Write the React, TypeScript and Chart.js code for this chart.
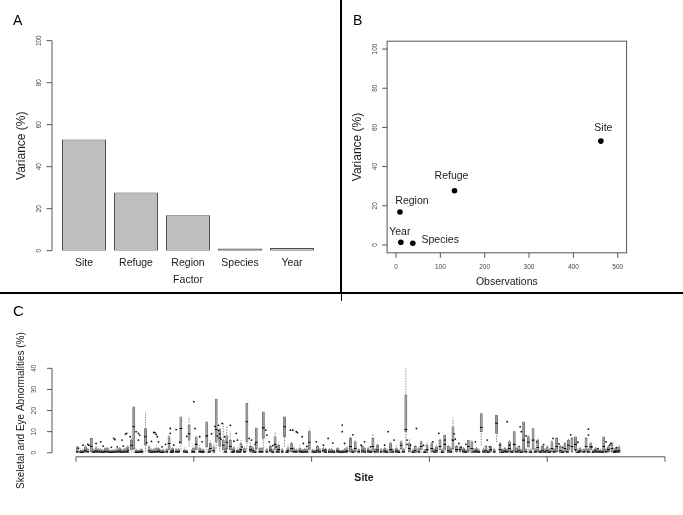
import React, { useEffect, useRef } from "react";
import { Chart, registerables } from "chart.js";

Chart.register(...registerables);

// ---------------- Panel A: variance by factor ----------------
const factorLabels = ["Site", "Refuge", "Region", "Species", "Year"];
const varianceByFactor = [53.0, 27.7, 16.9, 1.0, 1.3];
const varianceTicks = [0, 20, 40, 60, 80, 100];

// ---------------- Panel B: variance vs. observations ----------------
const pointNames = ["Site", "Refuge", "Region", "Year", "Species"];
const observations = [462, 132, 9, 11, 38];
const variancePct = [53.0, 27.7, 16.8, 1.4, 0.9];
const observationTicks = [0, 100, 200, 300, 400, 500];

// ---------------- Panel C: abnormalities per site (boxplots) ----------------
const siteIndex = [
  1, 4, 8, 13, 17, 21, 25, 29, 33, 37, 41, 44, 47, 49, 53, 56, 59, 62, 66, 70, 74, 79, 82,
  85, 89, 92, 96, 99, 102, 105, 108, 111, 114, 117, 119, 122, 125, 128, 131, 134, 137, 140, 143, 145, 148, 150, 153, 156, 159, 162, 165, 169, 172, 175, 177, 180, 183, 187, 190, 194, 198,
  201, 205, 210, 215, 219, 222, 226, 230, 233, 237, 240, 243, 248, 252, 256, 259, 262, 267, 272, 276, 280, 283, 288, 293, 298,
  302, 306, 309, 313, 316, 320, 323, 326, 329, 333, 336, 340, 344, 348, 352, 357, 360, 364, 368, 372, 376, 380, 384, 388, 392, 396,
  400, 404, 408, 411, 415, 418, 421, 424, 428, 431, 433, 437, 441, 445, 448, 452, 455, 458, 461,
];
const whiskerLow = [
  0, 0, 0, 0, 0, 0, 0, 0, 0, 0, 0, 0, 0, 0, 0, 0, 0.5, 0, 0, 0, 0, 0, 0,
  0, 0.5, 0, 3, 0, 0, 0, 0, 0, 0, 0, 2, 0.5, 0, 0, 0, 0, 0, 0, 0, 0.5, 0, 0, 0, 0, 2, 0, 0, 0, 0, 0, 3, 0, 0, 0, 0, 0, 0,
  0, 0, 0, 0, 0, 0, 0, 0, 0, 0, 0, 0, 0, 0, 0, 0, 0, 0, 0, 0, 2, 0, 0, 0, 0,
  0, 0, 0, 0, 0, 0, 0, 0, 0, 0, 0, 0, 3.6, 0, 0, 5, 0, 0, 0, 0, 0, 0, 0, 0, 0, 0,
  0, 0, 0, 0, 0, 0, 0, 0, 0, 0, 0, 0, 0, 0, 0, 0, 0, 0, 0,
];
const boxQ1 = [
  0, 0, 0.5, 0.5, 0, 0, 0, 0, 0, 0, 0, 0, 1.3, 2, 0, 0, 3.6, 0, 0, 0, 0, 1.3, 0,
  0, 4.4, 0, 6, 0, 1.3, 0, 0, 2.8, 0.5, 0, 5.2, 3, 1.3, 2, 1.5, 0, 0, 0.5, 0, 5.2, 0.5, 0, 2, 0, 6.8, 0, 0.5, 1.3, 0, 0, 7.6, 0, 0.5, 0, 0, 0, 1.3,
  0, 0, 0.5, 0, 0, 0, 0, 0, 0.5, 0.5, 0, 0, 0, 0.5, 0, 0, 0, 0, 0, 2, 10, 0.5, 0, 1.3, 0,
  0.5, 0, 1.3, 1.3, 0, 2, 0.5, 0.5, 0, 0.5, 0, 0, 10, 0, 0.5, 9.2, 0, 0, 0.5, 0.5, 0, 0.5, 2.8, 2, 0.5, 0,
  0, 0.5, 0.5, 0, 0.5, 1.3, 0.5, 1.3, 0, 0, 0.5, 1.3, 0, 0, 0.5, 0.5, 0.5, 0, 0,
];
const boxMedian = [
  0.5, 0.3, 1, 3, 0.8, 0.5, 0.6, 0.3, 0.5, 0.8, 0.5, 1, 3.6, 12.3, 0.3, 0.5, 7.6, 1, 0.5, 0.8, 0.3, 4.4, 0.8,
  0.5, 11.5, 0.5, 9, 0.5, 4, 0.6, 0.5, 8, 2, 1, 11, 7, 3.6, 5, 3, 0.8, 0.5, 1.5, 0.5, 14.7, 1.5, 1, 5, 0.5, 11.8, 0.5, 1.3, 4, 1.5, 0.5, 12.3, 1, 2, 0.5, 0.8, 0.5, 5,
  0.5, 1, 1, 0.5, 0.3, 0.8, 0.3, 0.8, 3, 2, 0.5, 1, 0.8, 3, 1.3, 0.5, 0.8, 1.5, 0.8, 3.6, 11, 2, 1, 3, 1.5,
  2, 1, 3, 4, 1, 6, 1.5, 1.5, 0.8, 3, 2, 0.8, 12, 1, 1.5, 14, 1.5, 0.8, 2, 4, 1, 6, 5, 6, 2.5, 1,
  1, 2, 3, 1, 2, 3.6, 3, 4, 0.8, 0.5, 3, 2.8, 0.8, 0.5, 3, 1.5, 2, 0.8, 1,
];
const boxQ3 = [
  2.8, 1, 2.8, 6.8, 2.4, 1.5, 2, 1, 1.3, 2, 1.5, 2.8, 6, 21.8, 1, 1.3, 11.5, 2.8, 1.5, 2, 1.3, 7.6, 2,
  1.5, 17, 1.3, 13, 1.5, 7.6, 2, 1.3, 14.7, 4.4, 2.8, 25.4, 11, 6, 8, 6, 2.4, 1.3, 4.4, 2, 23.4, 3, 2.4, 11.8, 2, 19.4, 1.5, 3, 7.6, 3.6, 1.5, 17, 2.4, 4.4, 1.3, 2, 1.5, 10,
  1.3, 3, 2, 1.5, 1, 2, 1, 2.4, 6.8, 5.2, 1.5, 3, 2, 6.8, 3.6, 1.5, 2, 4.4, 2, 5.2, 27.3, 4.4, 3, 5.2, 3.6,
  4.4, 2.8, 6, 8.4, 3, 12.3, 3, 2.8, 2, 6, 5.2, 2, 18.6, 3, 2.8, 17.9, 4.4, 2, 5.2, 10, 3, 14.7, 7.6, 11.5, 6, 3,
  2.8, 5.2, 6.8, 3, 4.4, 6, 6.8, 7.6, 2, 1.5, 6.8, 4.4, 2, 1.3, 7.6, 2.8, 4.4, 2, 2.8,
];
const whiskerHigh = [
  3.2, 2, 3.6, 6.8, 3, 2.4, 2.8, 1.5, 2, 3, 2.4, 3.6, 6.8, 21.8, 1.3, 2, 19.4, 3.6, 2.4, 3, 2, 8.4, 2.8,
  2.4, 17, 2.8, 17, 3, 7.6, 3.6, 2.4, 14.7, 6, 4.4, 25.4, 12.3, 14, 13, 10, 3.6, 2.8, 6, 3, 23.4, 5, 3.6, 11.8, 3, 19.4, 2.4, 4.4, 10, 5.2, 2.8, 17, 4, 5.2, 2.4, 3.6, 2.4, 11.5,
  2.4, 4, 2.8, 2.4, 1.5, 3, 1.3, 3.6, 7.6, 6, 2, 4, 2.8, 9.2, 4.4, 2.4, 3, 5.2, 3.6, 6, 40, 6.8, 3.6, 6, 5.2,
  5.2, 3.6, 6.8, 8.4, 4, 16.3, 3.6, 3.6, 2.8, 6, 6, 2.8, 18.6, 4, 3.6, 17.9, 5.2, 2.8, 6, 10, 4, 14.7, 8.4, 11.5, 6.8, 4,
  3.6, 6, 7.6, 4, 5.2, 6.8, 7.6, 7.6, 2.8, 2, 7.5, 5.2, 2.8, 2, 7.6, 3.6, 5.2, 2.8, 3.6,
];
// low sites whose box starts at 0 (the dense band along the bottom)
const lowSiteIndex = [
  6, 10, 15, 19, 23, 27, 31, 35, 39, 43, 51, 55, 64, 68, 72, 77, 81,
  87, 94, 100, 107, 113, 127, 133, 139, 152, 158, 167, 171, 179, 185, 192, 196,
  203, 207, 212, 217, 224, 228, 235, 245, 250, 254, 264, 269, 274, 278, 286, 291, 296,
  304, 311, 318, 331, 338, 342, 346, 350, 355, 362, 366, 370, 374, 378, 382, 386, 390, 394, 398,
  402, 406, 413, 417, 426, 435, 439, 443, 447, 450, 457, 460,
];
const lowMedian = [
  0.3, 0.5, 0.3, 0.5, 0.3, 0.5, 0.3, 0.5, 0.3, 0.5, 0.3, 0.5, 0.3, 0.5, 0.3, 0.5, 0.3,
  0.5, 0.3, 0.5, 0.3, 0.5, 0.5, 0.3, 0.5, 0.3, 0.5, 0.3, 0.5, 0.3, 0.5, 0.3, 0.5,
  0.3, 0.5, 0.3, 0.5, 0.3, 0.5, 0.3, 0.5, 0.3, 0.5, 0.3, 0.5, 0.3, 0.5, 0.3, 0.5, 0.3,
  0.5, 0.3, 0.5, 0.3, 0.5, 0.3, 0.5, 0.3, 0.5, 0.3, 0.5, 0.3, 0.5, 0.3, 0.5, 0.3, 0.5, 0.3, 0.5,
  0.3, 0.5, 0.3, 0.5, 0.3, 0.5, 0.3, 0.5, 0.3, 0.5, 0.3, 0.5,
];
const lowQ3 = [
  1, 1.5, 1.3, 1.5, 1, 2, 1, 1.5, 1.3, 2, 1.3, 1.5, 1.3, 2, 1, 1.5, 1.3,
  1.5, 1, 2, 1.3, 1.5, 2, 1.3, 1.5, 1, 2, 1.3, 1.5, 1, 2, 1.3, 1.5,
  1, 1.5, 1.3, 1.5, 1, 1.5, 1.3, 2, 1, 1.5, 1.3, 1.5, 1, 1.5, 1.3, 2, 1,
  1.5, 1.3, 2, 1, 1.5, 1.3, 1.5, 1, 1.5, 1.3, 1.5, 1, 2, 1.3, 1.5, 1.3, 1.5, 1, 1.5,
  1.3, 1.5, 1, 1.5, 1.3, 1.5, 1, 1.5, 1.3, 1.5, 1, 1.5,
];
const lowWhiskerHigh = [
  1.8, 2.4, 2, 2.8, 2, 3, 1.5, 2.4, 2, 3, 2.4, 2, 2.4, 3.6, 2, 2.8, 2,
  2.4, 2, 3, 2.4, 2.8, 3.6, 2, 2.4, 2, 2.8, 2.4, 3, 2, 3, 2, 2.4,
  2, 2.4, 2, 2.8, 1.5, 2.4, 2, 3, 2, 2.4, 2, 2.8, 2, 2.4, 2, 3, 2,
  2.4, 2, 3, 2, 2.4, 2, 2.8, 2, 2.4, 2, 2.4, 2, 3, 2, 2.4, 2, 2.8, 2, 2.4,
  2, 2.4, 2, 2.8, 2, 2.4, 2, 2.4, 2, 2.8, 2, 2.4,
];
const outlierSite = [
  2, 6, 10, 11, 17, 21, 23, 30, 32, 33, 35, 39, 40, 42, 43, 46, 51, 53, 53, 54, 60, 64, 66, 67, 68, 69, 70, 73, 76, 80, 80, 83, 85,
  88, 94, 100, 101, 105, 107, 115, 118, 120, 121, 121, 122, 123, 124, 126, 131, 134, 136, 137, 141, 147, 149, 152, 161, 162, 164, 167, 170, 182, 184, 187, 188, 192, 193, 196,
  204, 210, 212, 214, 218, 226, 226, 228, 235, 242, 245, 250, 262, 265, 270, 281, 281, 284, 289, 295,
  303, 308, 313, 321, 322, 325, 327, 331, 339, 349, 351, 360, 366, 368, 377, 378, 382, 391, 397,
  405, 410, 413, 420, 424, 426, 435, 435, 438, 443, 450, 453, 454, 459,
];
const outlierValue = [
  2.2, 3.6, 4, 3.6, 4.4, 5.2, 3.2, 2.6, 6.8, 6.3, 2.8, 6, 3.2, 8.8, 9.2, 7.6, 10, 6, 9.2, 8.4, 4.8, 5.4, 9.6, 9.5, 8.7, 7.6, 5.2, 2.8, 4, 11.5, 9.2, 3.6, 11,
  5, 7.8, 24.2, 11.5, 7.6, 5.2, 9, 12.5, 8, 13, 10.5, 9, 6.5, 13.9, 7.6, 13, 5.5, 9.2, 6, 2.8, 6.8, 6, 4, 10.7, 8.4, 5.2, 3.4, 2.8, 10.7, 10.7, 10, 9.5, 7.6, 4.4, 3,
  5.2, 3.6, 1.5, 6.8, 4.6, 13.1, 10, 4.4, 8.5, 3.6, 5.2, 2.8, 3.6, 10, 6, 6, 4, 3.6, 11.5, 3.5,
  5.2, 9.2, 6, 9, 6.5, 4.4, 2.5, 4, 5.2, 6, 2.8, 3.6, 14.7, 3.6, 12.3, 10, 8, 5.2, 3.9,
  6.8, 4.2, 2.5, 8.5, 1.3, 5, 11.2, 8.4, 2.8, 2, 5.2, 3.6, 4.4, 2.4,
];
const abnormalityTicks = [0, 10, 20, 30, 40];
const siteTicks = [0, 100, 200, 300, 400, 500];

// ---------------- styles ----------------
const SANS = '"Liberation Sans", Arial, Helvetica, sans-serif';
const NARROW = '"Liberation Sans Narrow", "Liberation Sans", Arial, sans-serif';
const AXIS = "#555555";
const TICK_TXT = "#444444";
const LABEL_TXT = "#1a1a1a";
const UP = -Math.PI / 2;

const pointLabelPlacement = [
  { dx: 2.5, dy: -13, align: "center" },
  { dx: -3, dy: -15, align: "center" },
  { dx: 12, dy: -10.6, align: "center" },
  { dx: -1, dy: -10.6, align: "center" },
  { dx: 8.7, dy: -2.6, align: "left" },
];

function text(
  ctx: CanvasRenderingContext2D,
  s: string,
  x: number,
  y: number,
  size: number,
  color: string,
  rotate = 0,
  align: CanvasTextAlign = "center",
  family = SANS,
  weight = "normal"
) {
  ctx.save();
  ctx.translate(x, y);
  if (rotate) ctx.rotate(rotate);
  ctx.font = `${weight} ${size}px ${family}`;
  ctx.fillStyle = color;
  ctx.textAlign = align;
  ctx.textBaseline = "middle";
  ctx.fillText(s, 0, 0);
  ctx.restore();
}

function seg(ctx: CanvasRenderingContext2D, x1: number, y1: number, x2: number, y2: number, color = AXIS, w = 1) {
  ctx.save();
  ctx.strokeStyle = color;
  ctx.lineWidth = w;
  ctx.beginPath();
  ctx.moveTo(x1, y1);
  ctx.lineTo(x2, y2);
  ctx.stroke();
  ctx.restore();
}

const baseOptions = {
  responsive: false,
  animation: false as const,
  events: [] as any[],
  plugins: { legend: { display: false }, tooltip: { enabled: false } },
};

function buildA(): any {
  const axes = {
    id: "axesA",
    afterDraw(chart: any) {
      const { ctx, chartArea: ca, scales } = chart;
      const x = scales.x, y = scales.y;
      const ax = ca.left - 6;
      const y0 = y.getPixelForValue(varianceTicks[0]);
      const y1 = y.getPixelForValue(varianceTicks[varianceTicks.length - 1]);
      seg(ctx, ax, y0, ax, y1);
      varianceTicks.forEach((t) => {
        const py = y.getPixelForValue(t);
        seg(ctx, ax, py, ax - 5.5, py);
        text(ctx, String(t), ax - 12.5, py, 6.5, TICK_TXT, UP);
      });
      text(ctx, "Variance (%)", 22, (y0 + y1) / 2, 12, LABEL_TXT, UP);
      factorLabels.forEach((l, i) => text(ctx, l, x.getPixelForValue(i), 263, 10.5, LABEL_TXT));
      text(ctx, "Factor", (ca.left + ca.right) / 2, 280.5, 10.5, LABEL_TXT);
    },
  };
  return {
    type: "bar",
    data: {
      labels: factorLabels,
      datasets: [
        {
          data: varianceByFactor,
          backgroundColor: "#bebebe",
          borderColor: "#505050",
          borderWidth: 1,
          borderSkipped: false,
          barPercentage: 0.846,
          categoryPercentage: 1,
        },
      ],
    },
    options: {
      ...baseOptions,
      layout: { padding: { left: 58, right: 22, top: 40.7, bottom: 41.3 } },
      scales: {
        x: { display: false, offset: true },
        y: { display: false, min: 0, max: 100 },
      },
    },
    plugins: [axes],
  };
}

function buildB(): any {
  const axes = {
    id: "axesB",
    afterDraw(chart: any) {
      const { ctx, chartArea: ca, scales } = chart;
      const x = scales.x, y = scales.y;
      ctx.save();
      ctx.strokeStyle = AXIS;
      ctx.lineWidth = 1;
      ctx.strokeRect(ca.left, ca.top, ca.right - ca.left, ca.bottom - ca.top);
      ctx.restore();
      varianceTicks.forEach((t) => {
        const py = y.getPixelForValue(t);
        seg(ctx, ca.left, py, ca.left - 5, py);
        text(ctx, String(t), ca.left - 11.8, py, 6.5, TICK_TXT, UP);
      });
      observationTicks.forEach((t) => {
        const px = x.getPixelForValue(t);
        seg(ctx, px, ca.bottom, px, ca.bottom + 5);
        text(ctx, String(t), px, ca.bottom + 14, 6.5, TICK_TXT);
      });
      text(ctx, "Observations", (ca.left + ca.right) / 2, 282.5, 10.5, LABEL_TXT);
      text(ctx, "Variance (%)", 15.5, (ca.top + ca.bottom) / 2, 12, LABEL_TXT, UP);
      const meta = chart.getDatasetMeta(0);
      pointNames.forEach((n, i) => {
        const el = meta.data[i];
        const p = pointLabelPlacement[i];
        text(ctx, n, el.x + p.dx, el.y + p.dy, 10.5, LABEL_TXT, 0, p.align as CanvasTextAlign);
      });
    },
  };
  return {
    type: "scatter",
    data: {
      datasets: [
        {
          data: observations.map((o, i) => ({ x: o, y: variancePct[i] })),
          backgroundColor: "#000",
          borderWidth: 0,
          pointRadius: 2.8,
        },
      ],
    },
    options: {
      ...baseOptions,
      layout: { padding: { left: 45.1, right: 56.4, top: 41.2, bottom: 39.2 } },
      scales: {
        x: { type: "linear", display: false, min: -20, max: 520 },
        y: { type: "linear", display: false, min: -4, max: 104 },
      },
    },
    plugins: [axes],
  };
}

function buildC(): any {
  const sites = siteIndex.concat(lowSiteIndex);
  const lo = whiskerLow.concat(lowSiteIndex.map(() => 0));
  const q1 = boxQ1.concat(lowSiteIndex.map(() => 0));
  const med = boxMedian.concat(lowMedian);
  const q3 = boxQ3.concat(lowQ3);
  const hi = whiskerHigh.concat(lowWhiskerHigh);

  const boxes = sites.map((s, i) => ({ x: s, y: [q1[i], q3[i]] }));
  const whiskers: { x: number; y: number | null }[] = [];
  sites.forEach((s, i) => {
    if (hi[i] > q3[i]) whiskers.push({ x: s, y: q3[i] }, { x: s, y: hi[i] }, { x: s, y: null });
    if (q1[i] > lo[i]) whiskers.push({ x: s, y: lo[i] }, { x: s, y: q1[i] }, { x: s, y: null });
  });
  const medians = sites.map((s, i) => ({ x: s, y: med[i] }));
  const outliers = outlierSite.map((s, i) => ({ x: s, y: outlierValue[i] }));

  const axes = {
    id: "axesC",
    afterDraw(chart: any) {
      const { ctx, chartArea: ca, scales } = chart;
      const x = scales.x, y = scales.y;
      const y0 = y.getPixelForValue(abnormalityTicks[0]);
      const y1 = y.getPixelForValue(abnormalityTicks[abnormalityTicks.length - 1]);
      seg(ctx, ca.left, y0, ca.left, y1);
      abnormalityTicks.forEach((t) => {
        const py = y.getPixelForValue(t);
        seg(ctx, ca.left, py, ca.left - 5, py);
        text(ctx, String(t), ca.left - 17.5, py, 6.5, TICK_TXT, UP);
      });
      const x0 = x.getPixelForValue(siteTicks[0]);
      const x1 = x.getPixelForValue(siteTicks[siteTicks.length - 1]);
      seg(ctx, x0, ca.bottom, x1, ca.bottom);
      siteTicks.forEach((t) => {
        const px = x.getPixelForValue(t);
        seg(ctx, px, ca.bottom, px, ca.bottom + 5);
      });
      text(ctx, "Skeletal and Eye Abnormalities (%)", 21, (ca.top + ca.bottom) / 2, 10, LABEL_TXT, UP);
      text(ctx, "Site", 364, ca.bottom + 21, 10.5, LABEL_TXT, 0, "center", NARROW, "bold");
    },
  };

  return {
    type: "bar",
    data: {
      datasets: [
        {
          type: "scatter",
          data: outliers,
          backgroundColor: "#111",
          borderWidth: 0,
          pointRadius: 0.9,
          order: 0,
        },
        {
          type: "scatter",
          data: medians,
          pointStyle: "line",
          pointRadius: 1.3,
          borderColor: "#000",
          borderWidth: 1.1,
          order: 1,
        },
        {
          type: "bar",
          data: boxes,
          backgroundColor: "#9c9c9c",
          borderColor: "#505050",
          borderWidth: 0.5,
          borderSkipped: false,
          barThickness: 2.2,
          order: 2,
        },
        {
          type: "line",
          data: whiskers,
          borderColor: "#6a6a6a",
          borderWidth: 0.8,
          borderDash: [1.4, 1.2],
          pointRadius: 0,
          spanGaps: false,
          order: 3,
        },
      ],
    },
    options: {
      ...baseOptions,
      layout: { padding: { left: 52, right: 18, top: 69.3, bottom: 58.2 } },
      scales: {
        x: { type: "linear", display: false, offset: false, min: -20.4, max: 500, grid: { offset: false } },
        y: { type: "linear", display: false, min: -1.9, max: 41.9 },
      },
    },
    plugins: [axes],
  };
}

function ChartCanvas(props: { left: number; top: number; width: number; height: number; build: () => any }) {
  const ref = useRef<HTMLCanvasElement | null>(null);
  useEffect(() => {
    const chart = new Chart(ref.current as HTMLCanvasElement, props.build());
    return () => chart.destroy();
  }, []);
  return (
    <canvas
      ref={ref}
      width={props.width}
      height={props.height}
      style={{ position: "absolute", left: props.left, top: props.top, width: props.width, height: props.height }}
    />
  );
}

export default function App() {
  useEffect(() => {
    document.body.style.margin = "0";
  }, []);
  const letter = (s: string, left: number, top: number, size: number, family: string) => (
    <div
      style={{
        position: "absolute",
        left,
        top,
        fontFamily: family,
        fontSize: size,
        lineHeight: `${size}px`,
        color: "#000",
      }}
    >
      {s}
    </div>
  );
  return (
    <div style={{ position: "relative", width: 683, height: 515, background: "#fff", overflow: "hidden" }}>
      <ChartCanvas left={0} top={0} width={340} height={292} build={buildA} />
      <ChartCanvas left={342} top={0} width={341} height={292} build={buildB} />
      <ChartCanvas left={0} top={295} width={683} height={220} build={buildC} />
      <div style={{ position: "absolute", left: 340, top: 0, width: 2, height: 294, background: "#000" }} />
      <div style={{ position: "absolute", left: 0, top: 292, width: 683, height: 2, background: "#000" }} />
      <div style={{ position: "absolute", left: 341, top: 294, width: 1, height: 7, background: "#000" }} />
      {letter("A", 13, 13, 14, SANS)}
      {letter("B", 353, 13, 14, SANS)}
      {letter("C", 13, 303, 15, NARROW)}
    </div>
  );
}
